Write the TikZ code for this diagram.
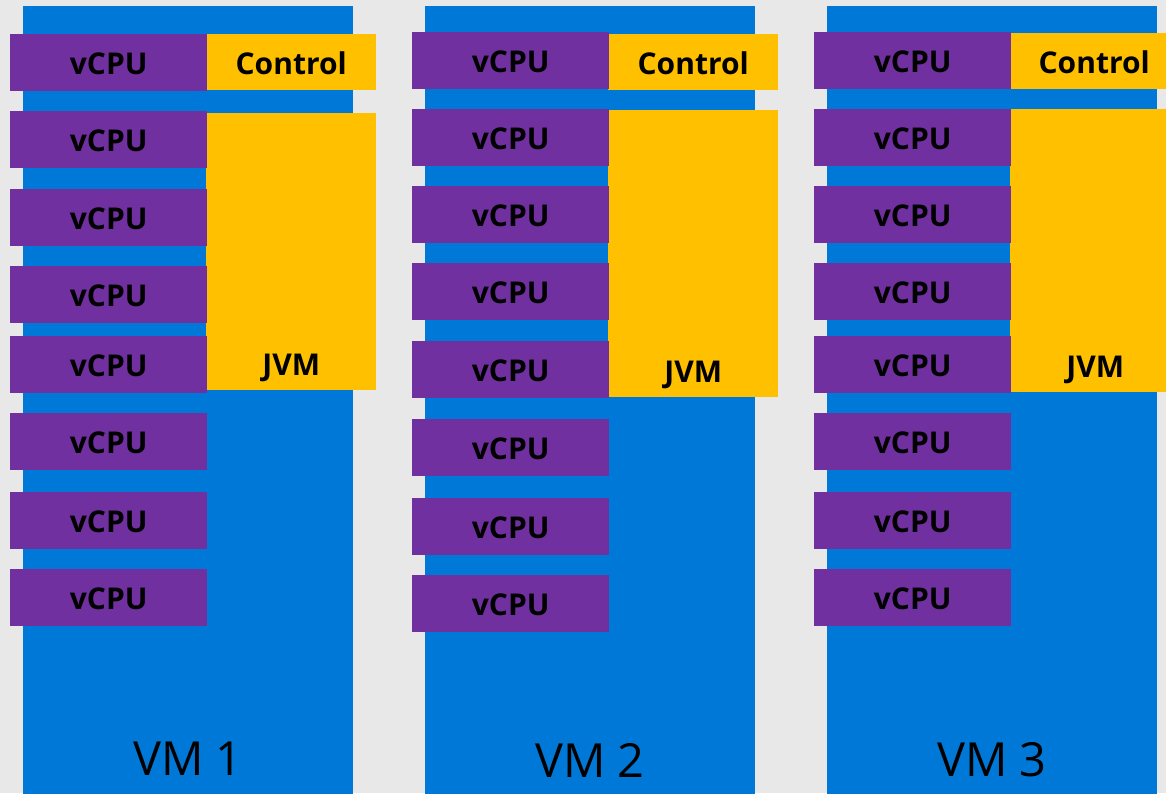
\documentclass[tikz,border=0pt]{standalone}
\usepackage{fontspec}
\setmainfont{Open Sans}
\definecolor{pagegray}{RGB}{232,232,232}
\definecolor{vmblue}{RGB}{0,120,215}
\definecolor{cpupurple}{RGB}{112,48,160}
\definecolor{jvmgold}{RGB}{255,192,0}
\tikzset{
  boldtext/.style={font=\fontsize{30}{31}\selectfont\bfseries},
  vmbox/.style={fill=vmblue, inner sep=0, anchor=north west, minimum width=330, minimum height=800},
  vcpubox/.style={fill=cpupurple, inner sep=0, anchor=north west, minimum width=197, minimum height=57},
  ctrlbox/.style={fill=jvmgold, inner sep=0, anchor=north west, minimum width=170, minimum height=56},
  jvmbox/.style={fill=jvmgold, inner sep=0, anchor=north west, minimum width=170},
  boxtext/.style={boldtext, inner sep=0, anchor=center, yshift=-1.5},
  jvmtext/.style={boldtext, inner sep=0, anchor=base, yshift=15},
  vmtext/.style={inner sep=0, anchor=base, font=\fontsize{47}{50}\selectfont},
}
\begin{document}
\begin{tikzpicture}[x=1pt,y=-1pt]
  \useasboundingbox (0,0) rectangle (1166,793);
  \clip (0,0) rectangle (1166,793);
  \fill[pagegray] (0,0) rectangle (1166,793);

  % --- VM 1 ---
  \node[vmbox] (vm1) at (23,6) {};
  \node[ctrlbox] (ctrl1) at (206,34) {};
  \node[boxtext] (ctrllbl1) at (ctrl1.center) {Control};
  \node[jvmbox, minimum height=277] (jvm1) at (206,113) {};
  \node[jvmtext] (jvmlbl1) at (jvm1.south) {JVM};
  \foreach \y [count=\i] in {34,111,189,266,336,413,492,569} {
    \node[vcpubox] (cpu1-\i) at (10,\y) {};
    \node[boxtext] (cpulbl1-\i) at (cpu1-\i.center) {vCPU};
  }
  \node[vmtext] (vmlbl1) at (188,775) {VM 1};

  % --- VM 2 ---
  \node[vmbox] (vm2) at (425,6) {};
  \node[ctrlbox] (ctrl2) at (608,34) {};
  \node[boxtext] (ctrllbl2) at (ctrl2.center) {Control};
  \node[jvmbox, minimum height=287] (jvm2) at (608,110) {};
  \node[jvmtext] (jvmlbl2) at (jvm2.south) {JVM};
  \foreach \y [count=\i] in {32,109,186,263,341,419,498,575} {
    \node[vcpubox] (cpu2-\i) at (412,\y) {};
    \node[boxtext] (cpulbl2-\i) at (cpu2-\i.center) {vCPU};
  }
  \node[vmtext] (vmlbl2) at (590,777) {VM 2};

  % --- VM 3 ---
  \node[vmbox] (vm3) at (827,6) {};
  \node[ctrlbox] (ctrl3) at (1009,33) {};
  \node[boxtext] (ctrllbl3) at (ctrl3.center) {Control};
  \node[jvmbox, minimum height=283] (jvm3) at (1010,109) {};
  \node[jvmtext] (jvmlbl3) at (jvm3.south) {JVM};
  \foreach \y [count=\i] in {32,109,186,263,336,413,492,569} {
    \node[vcpubox] (cpu3-\i) at (814,\y) {};
    \node[boxtext] (cpulbl3-\i) at (cpu3-\i.center) {vCPU};
  }
  \node[vmtext] (vmlbl3) at (992,776) {VM 3};
\end{tikzpicture}
\end{document}
